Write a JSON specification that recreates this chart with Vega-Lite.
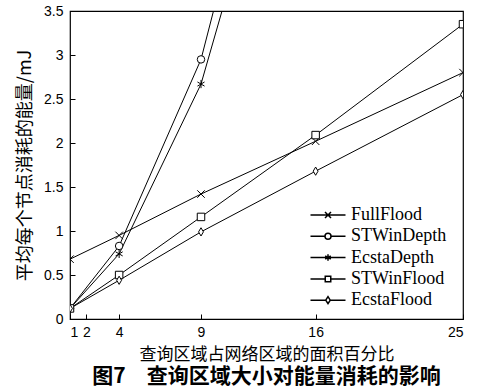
{
  "$schema": "https://vega.github.io/schema/vega-lite/v6.json",
  "width": 393,
  "height": 308,
  "autosize": {"type": "none"},
  "padding": {"left": 70, "top": 11, "right": 17, "bottom": 72},
  "background": "white",
  "config": {
    "view": {"stroke": "black", "strokeWidth": 1.2},
    "axis": {
      "grid": false,
      "domain": false,
      "tickColor": "black",
      "tickSize": -5,
      "labelColor": "black",
      "labelFont": "Liberation Sans",
      "labelFontSize": 14,
      "titleColor": "black",
      "titleFont": "Noto Sans CJK SC",
      "titleFontSize": 17,
      "titleFontWeight": "normal"
    }
  },
  "title": {
    "text": "图7　查询区域大小对能量消耗的影响",
    "orient": "bottom",
    "font": "Noto Sans CJK SC",
    "fontSize": 21,
    "fontWeight": "bold",
    "color": "black",
    "anchor": "middle",
    "offset": 4
  },
  "data": {
    "values": [
      {"series": "FullFlood", "x": 1, "y": 0.68},
      {"series": "FullFlood", "x": 4, "y": 0.95},
      {"series": "FullFlood", "x": 9, "y": 1.42},
      {"series": "FullFlood", "x": 16, "y": 2.02},
      {"series": "FullFlood", "x": 25, "y": 2.8},
      {"series": "STWinDepth", "x": 1, "y": 0.12},
      {"series": "STWinDepth", "x": 4, "y": 0.83},
      {"series": "STWinDepth", "x": 9, "y": 2.95},
      {"series": "STWinDepth", "x": 16, "y": 8.0},
      {"series": "STWinDepth", "x": 25, "y": 12.5},
      {"series": "EcstaDepth", "x": 1, "y": 0.12},
      {"series": "EcstaDepth", "x": 4, "y": 0.74},
      {"series": "EcstaDepth", "x": 9, "y": 2.67},
      {"series": "EcstaDepth", "x": 16, "y": 7.2},
      {"series": "EcstaDepth", "x": 25, "y": 11.2},
      {"series": "STWinFlood", "x": 1, "y": 0.12},
      {"series": "STWinFlood", "x": 4, "y": 0.5},
      {"series": "STWinFlood", "x": 9, "y": 1.16},
      {"series": "STWinFlood", "x": 16, "y": 2.09},
      {"series": "STWinFlood", "x": 25, "y": 3.35},
      {"series": "EcstaFlood", "x": 1, "y": 0.12},
      {"series": "EcstaFlood", "x": 4, "y": 0.44},
      {"series": "EcstaFlood", "x": 9, "y": 0.99},
      {"series": "EcstaFlood", "x": 16, "y": 1.68},
      {"series": "EcstaFlood", "x": 25, "y": 2.55}
    ]
  },
  "encoding": {
    "x": {
      "field": "x",
      "type": "quantitative",
      "scale": {"domain": [1, 25], "nice": false, "zero": false},
      "axis": {
        "title": "查询区域占网络区域的面积百分比",
        "values": [1, 2, 4, 9, 16, 25],
        "labelPadding": 11,
        "titlePadding": 7
      }
    },
    "y": {
      "field": "y",
      "type": "quantitative",
      "scale": {"domain": [0, 3.5], "nice": false},
      "axis": {
        "title": "平均每个节点消耗的能量/mJ",
        "titleFontSize": 18,
        "values": [0, 0.5, 1, 1.5, 2, 2.5, 3, 3.5],
        "format": "~g",
        "labelPadding": 12,
        "titlePadding": 9
      }
    }
  },
  "layer": [
    {
      "mark": {"type": "line", "clip": true, "color": "black", "strokeWidth": 1},
      "encoding": {"detail": {"field": "series"}}
    },
    {
      "mark": {"type": "point", "clip": true, "fill": "white", "stroke": "black", "strokeWidth": 1, "size": 56, "opacity": 1},
      "encoding": {
        "shape": {
          "field": "series",
          "scale": {
            "domain": ["FullFlood", "STWinDepth", "EcstaDepth", "STWinFlood", "EcstaFlood"],
            "range": [
              "M-1,-1L1,1M-1,1L1,-1",
              "circle",
              "M0,-1.1L0,1.1M-0.95,-0.55L0.95,0.55M-0.95,0.55L0.95,-0.55",
              "square",
              "M-0.65,0L0,-1.1L0.65,0L0,1.1Z"
            ]
          },
          "legend": null
        }
      }
    },
    {
      "transform": [{"filter": "datum.x > 100"}],
      "mark": {"type": "point", "fill": "white", "stroke": "black", "strokeWidth": 1, "size": 100, "opacity": 1},
      "encoding": {
        "shape": {
          "field": "series",
          "scale": {
            "domain": ["FullFlood", "STWinDepth", "EcstaDepth", "STWinFlood", "EcstaFlood"],
            "range": [
              "M-3.5,0L3.5,0M-0.6,-0.6L0.6,0.6M-0.6,0.6L0.6,-0.6",
              "M-3.5,0L-0.6,0M0.6,0L3.5,0M-0.6,0A0.6,0.6 0 1,1 0.6,0A0.6,0.6 0 1,1 -0.6,0Z",
              "M-3.5,0L3.5,0M0,-0.65L0,0.65M-0.56,-0.32L0.56,0.32M-0.56,0.32L0.56,-0.32",
              "M-3.5,0L-0.55,0M0.55,0L3.5,0M-0.55,-0.55L0.55,-0.55L0.55,0.55L-0.55,0.55Z",
              "M-3.5,0L-0.45,0M0.45,0L3.5,0M-0.45,0L0,-0.7L0.45,0L0,0.7Z"
            ]
          },
          "legend": {
            "orient": "none",
            "legendX": 249,
            "legendY": 195,
            "title": null,
            "labelOffset": 14,
            "labelFont": "Liberation Serif",
            "labelFontSize": 18,
            "labelColor": "black",
            "rowPadding": 3.3
          }
        }
      }
    }
  ],
  "resolve": {"scale": {"shape": "independent"}}
}
